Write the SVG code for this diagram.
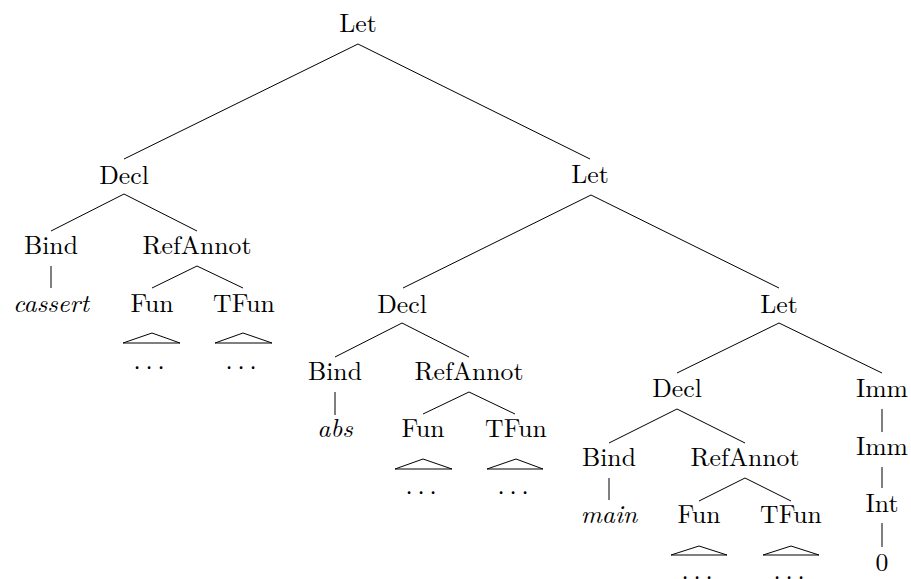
<svg xmlns="http://www.w3.org/2000/svg" width="911" height="579" viewBox="0 0 911 579">
<style>
text{font-size:25.7px;fill:#000;text-anchor:middle}
.i{font-style:italic}
.d{word-spacing:-3.7px}
#edges line,#edges polygon{stroke:#000;stroke-width:1;fill:none}
</style>
<rect width="911" height="579" fill="#fff"/>
<g id="edges">
<line x1="358" y1="44" x2="124" y2="159"/>
<line x1="358" y1="44" x2="590" y2="159"/>
<line x1="124" y1="194" x2="51" y2="231"/>
<line x1="124" y1="194" x2="197" y2="231"/>
<line x1="51" y1="266" x2="51" y2="288"/>
<line x1="197" y1="266" x2="152" y2="288"/>
<line x1="197" y1="266" x2="243" y2="288"/>
<polygon points="152,333 123,343 180,343"/>
<polygon points="243,333 215,343 272,343"/>
<line x1="591" y1="195" x2="403" y2="288"/>
<line x1="591" y1="195" x2="779" y2="288"/>
<line x1="402" y1="323" x2="335" y2="357"/>
<line x1="402" y1="323" x2="469" y2="357"/>
<line x1="335" y1="392" x2="335" y2="415"/>
<line x1="469" y1="392" x2="423" y2="414"/>
<line x1="469" y1="392" x2="515" y2="414"/>
<polygon points="423,459 395,469 452,469"/>
<polygon points="516,459 487,469 543,469"/>
<line x1="779" y1="323" x2="677" y2="373"/>
<line x1="779" y1="323" x2="882" y2="373"/>
<line x1="677" y1="409" x2="609" y2="443"/>
<line x1="677" y1="409" x2="745" y2="443"/>
<line x1="609" y1="478" x2="609" y2="500"/>
<line x1="745" y1="478" x2="699" y2="501"/>
<line x1="745" y1="478" x2="791" y2="501"/>
<polygon points="699,546 671,555 727,555"/>
<polygon points="791,546 763,555 819,555"/>
<line x1="882" y1="409" x2="882" y2="432"/>
<line x1="882" y1="467" x2="882" y2="488"/>
<line x1="882" y1="523" x2="882" y2="547"/>
</g>
<g font-family="Latin Modern Roman, Liberation Serif, serif">
<g id="n_let1"><text x="358" y="32">Let</text></g>
<g id="n_decl1"><text x="124" y="184">Decl</text></g>
<g id="n_let2"><text x="590" y="183">Let</text></g>
<g id="n_bind1"><text x="51" y="254">Bind</text></g>
<g id="n_ref1"><text x="197" y="254">RefAnnot</text></g>
<g id="n_cassert"><text class="i" x="51" y="312">cassert</text></g>
<g id="n_fun1"><text x="152" y="312">Fun</text></g>
<g id="n_tfun1"><text x="244" y="312">TFun</text></g>
<g id="n_dots1"><text class="d" x="149" y="369">. . .</text></g>
<g id="n_dots2"><text class="d" x="241" y="369">. . .</text></g>
<g id="n_decl2"><text x="402" y="313">Decl</text></g>
<g id="n_let3"><text x="779" y="313">Let</text></g>
<g id="n_bind2"><text x="335" y="380">Bind</text></g>
<g id="n_ref2"><text x="469" y="380">RefAnnot</text></g>
<g id="n_abs"><text class="i" x="335" y="437">abs</text></g>
<g id="n_fun2"><text x="423" y="437">Fun</text></g>
<g id="n_tfun2"><text x="516" y="437">TFun</text></g>
<g id="n_dots3"><text class="d" x="421" y="494">. . .</text></g>
<g id="n_dots4"><text class="d" x="513" y="494">. . .</text></g>
<g id="n_decl3"><text x="677" y="397">Decl</text></g>
<g id="n_imm1"><text x="882" y="397">Imm</text></g>
<g id="n_bind3"><text x="609" y="466">Bind</text></g>
<g id="n_ref3"><text x="745" y="466">RefAnnot</text></g>
<g id="n_imm2"><text x="882" y="455">Imm</text></g>
<g id="n_main"><text class="i" x="609" y="523">main</text></g>
<g id="n_fun3"><text x="699" y="523">Fun</text></g>
<g id="n_tfun3"><text x="791" y="523">TFun</text></g>
<g id="n_int"><text x="882" y="512">Int</text></g>
<g id="n_zero"><text x="882" y="571">0</text></g>
<g id="n_dots5"><text class="d" x="697" y="579">. . .</text></g>
<g id="n_dots6"><text class="d" x="789" y="579">. . .</text></g>
</g>
</svg>
